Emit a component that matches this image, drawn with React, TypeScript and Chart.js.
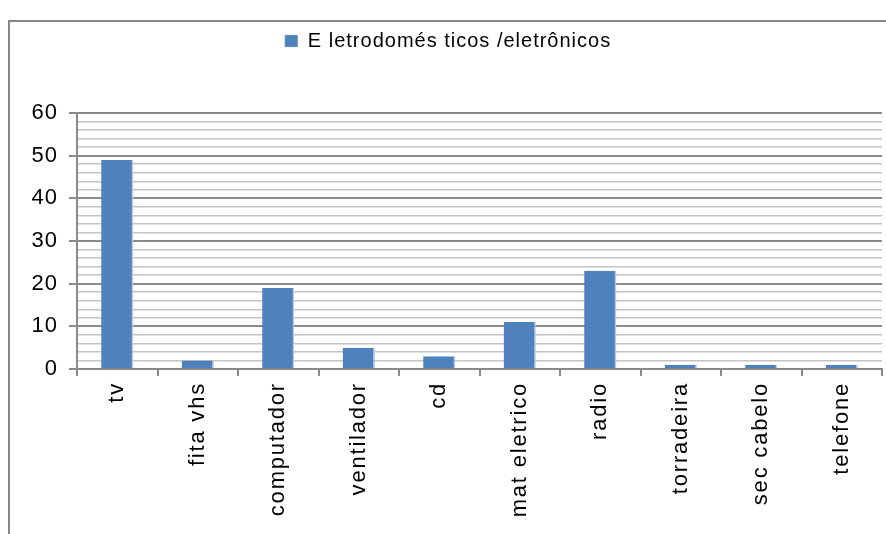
import React, { useEffect, useRef } from 'react';
import { Chart, registerables } from 'chart.js';

Chart.register(...registerables);

const categories = ['tv', 'fita vhs', 'computador', 'ventilador', 'cd', 'mat eletrico', 'radio', 'torradeira', 'sec cabelo', 'telefone'];
const values = [49, 2, 19, 5, 3, 11, 23, 1, 1, 1];
const seriesLabel = 'E letrodomés ticos /eletrônicos';
const yMin = 0;
const yMax = 60;
const yMinorStep = 2;
const yMajorStep = 10;

const FAMILY = "'Liberation Sans', Arial, sans-serif";
const MAJOR = '#8a8a8a';
const MINOR = '#c4c4c4';

export default function App() {
  const ref = useRef<HTMLCanvasElement>(null);

  useEffect(() => {
    document.body.style.margin = '0';
    const canvas = ref.current!;

    const patchX = (chart: any) => {
      const xs = chart.scales && chart.scales.x;
      if (xs && !xs._patched) {
        const orig = xs.drawLabels.bind(xs);
        xs.drawLabels = (area: any) => {
          const c = xs.ctx;
          c.save();
          c.letterSpacing = '1.8px';
          orig(area);
          c.restore();
        };
        xs._patched = true;
      }
    };

    const helper = {
      id: 'helper',
      beforeLayout(chart: any) {
        chart.ctx.letterSpacing = '1px';
        const lg = chart.legend;
        if (lg && !lg._patched) {
          const f = lg.fit.bind(lg);
          lg.fit = () => {
            f();
            lg.height = 113;
          };
          lg._patched = true;
        }
        patchX(chart);
      },
      afterLayout(chart: any) {
        patchX(chart);
        const lg = chart.legend;
        if (lg) {
          lg.left += 3;
          lg.right += 3;
        }
      },
      beforeDraw(chart: any) {
        const ctx = chart.ctx;
        ctx.letterSpacing = '1px';
        ctx.save();
        ctx.fillStyle = '#ffffff';
        ctx.fillRect(0, 0, chart.width, chart.height);
        ctx.strokeStyle = '#878787';
        ctx.lineWidth = 2;
        ctx.strokeRect(9, 21, 1000, 1000);
        ctx.restore();
      },
    };

    const chart = new Chart(canvas, {
      type: 'bar',
      data: {
        labels: categories,
        datasets: [
          {
            label: seriesLabel,
            data: values,
            backgroundColor: '#4F81BD',
            borderColor: '#b4cae6',
            borderWidth: { top: 0, left: 0, bottom: 0, right: 1.5 },
            borderSkipped: false,
            barPercentage: 1,
            categoryPercentage: 0.4,
          },
        ],
      },
      options: {
        responsive: false,
        animation: false,
        devicePixelRatio: 1,
        layout: { padding: { left: 8, right: 4, top: 0, bottom: 0 } },
        plugins: {
          tooltip: { enabled: false },
          legend: {
            display: true,
            position: 'top',
            labels: {
              boxWidth: 13,
              boxHeight: 12,
              padding: 31,
              color: '#000',
              font: { family: FAMILY, size: 20 },
            },
          },
        },
        scales: {
          x: {
            type: 'category',
            grid: {
              offset: true,
              drawOnChartArea: false,
              drawTicks: true,
              tickLength: 7,
              color: MAJOR,
              lineWidth: 2,
            },
            border: { color: MAJOR, width: 2 },
            ticks: {
              minRotation: 90,
              maxRotation: 90,
              autoSkip: false,
              color: '#000',
              padding: 6,
              font: { family: FAMILY, size: 22 },
            },
            afterFit: (s: any) => {
              s.height = 534 - 369;
            },
          },
          y: {
            min: yMin,
            max: yMax,
            grid: {
              color: (c: any) => (c.tick && c.tick.value % yMajorStep === 0 ? MAJOR : MINOR),
              lineWidth: (c: any) => (c.tick && c.tick.value % yMajorStep === 0 ? 2 : 1.5),
              tickColor: (c: any) => (c.tick && c.tick.value % yMajorStep === 0 ? MAJOR : 'rgba(0,0,0,0)'),
              tickLength: 8,
              drawTicks: true,
            },
            border: { color: MAJOR, width: 2 },
            ticks: {
              stepSize: yMinorStep,
              maxTicksLimit: 100,
              autoSkip: false,
              color: '#000',
              padding: 11,
              font: { family: FAMILY, size: 22 },
              callback: (v: any) => (Number(v) % yMajorStep === 0 ? String(v) : ''),
            },
            afterFit: (s: any) => {
              s.width = 69;
            },
          },
        },
      },
      plugins: [helper],
    });

    return () => chart.destroy();
  }, []);

  return (
    <div style={{ width: 886, height: 534 }}>
      <canvas ref={ref} width={886} height={534} style={{ display: 'block' }} />
    </div>
  );
}
